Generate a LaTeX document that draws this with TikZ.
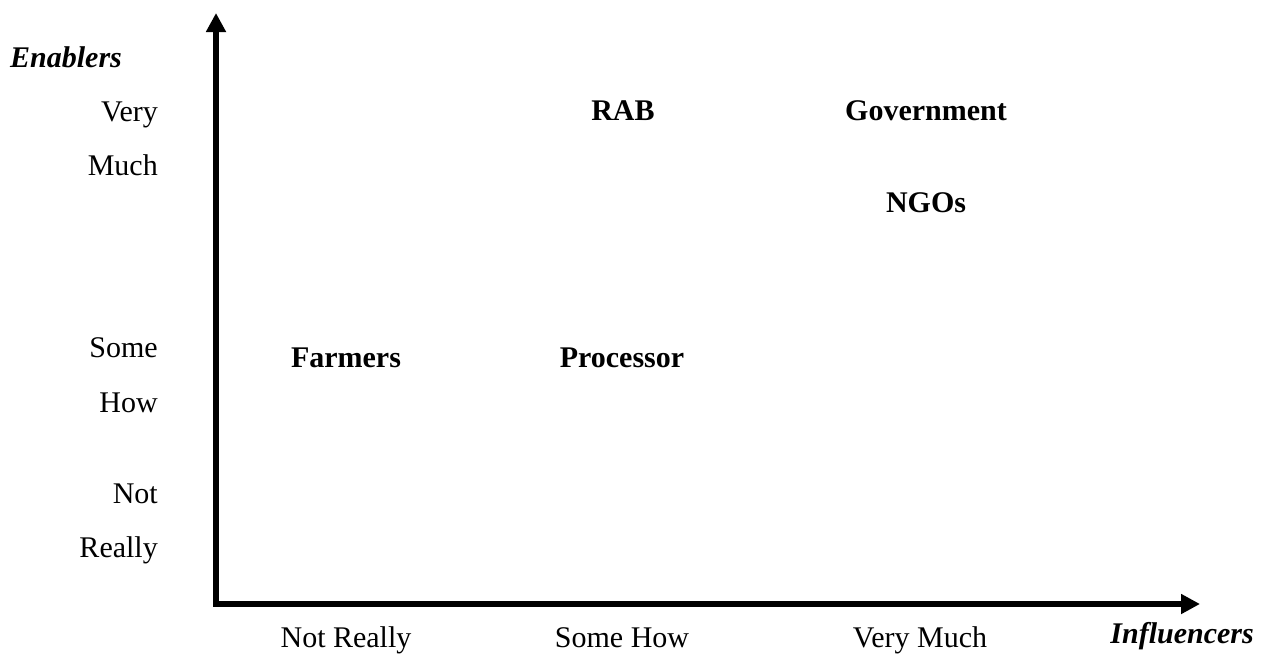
\documentclass[tikz,border=0pt]{standalone}
\usepackage{fontspec}
\setmainfont{Liberation Serif}
\usetikzlibrary{arrows.meta}
\begin{document}
\begin{tikzpicture}[x=1pt,y=-1pt,
  lab/.style={font=\fontsize{30}{34}\selectfont, inner sep=0pt, anchor=base},
  ylab/.style={lab, anchor=base east},
  actor/.style={font=\fontsize{30}{34}\selectfont\bfseries, inner sep=0pt, anchor=base},
  title/.style={font=\fontsize{30}{34}\selectfont\bfseries\itshape, inner sep=0pt},
  axis/.style={line width=5.5pt, -{Triangle[length=19pt,width=19pt]}}]
\useasboundingbox (0,0) rectangle (1265,656);
\coordinate (O) at (216,604);
\coordinate (Ytip) at (216,13);
\coordinate (Xtip) at (1200,604);
\draw[axis] ([yshift=2.75pt]O) -- (Ytip);
\draw[axis] ([xshift=-2.75pt]O) -- (Xtip);
\node[title, anchor=base west] (en) at (10,67) {Enablers};
\node[ylab] (vm1) at (158,121) {Very};
\node[ylab] (vm2) at (158,175) {Much};
\node[ylab] (sh1) at (158,357) {Some};
\node[ylab] (sh2) at (158,412) {How};
\node[ylab] (nr1) at (158,503) {Not};
\node[ylab] (nr2) at (158,557) {Really};
\node[lab] (xnr) at (346,647) {Not Really};
\node[lab] (xsh) at (622,647) {Some How};
\node[lab] (xvm) at (920,647) {Very Much};
\node[title, anchor=base east] (inf) at (1254,643) {Influencers};
\node[actor] (rab) at (623,120) {RAB};
\node[actor] (gov) at (926,120) {Government};
\node[actor] (ngo) at (926,212) {NGOs};
\node[actor] (far) at (346,367) {Farmers};
\node[actor] (pro) at (622,367) {Processor};
\end{tikzpicture}
\end{document}
